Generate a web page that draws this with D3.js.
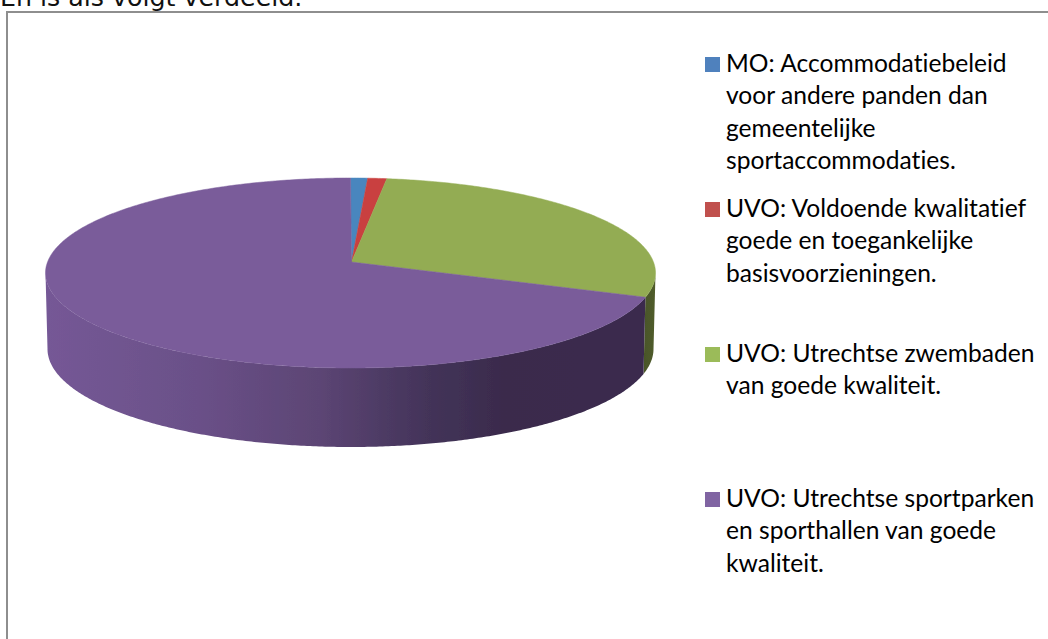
<!DOCTYPE html>
<html>
<head>
<meta charset="utf-8">
<script src="https://cdn.jsdelivr.net/npm/d3@7"></script>
<style>
    html, body { margin: 0; padding: 0; background: #fff; overflow: hidden; }
    svg { display: block; }
</style>
</head>
<body>
<svg id="chart"></svg>
<script>
var categories = [
    'MO: Accommodatiebeleid voor andere panden dan gemeentelijke sportaccommodaties.',
    'UVO: Voldoende kwalitatief goede en toegankelijke basisvoorzieningen.',
    'UVO: Utrechtse zwembaden van goede kwaliteit.',
    'UVO: Utrechtse sportparken en sporthallen van goede kwaliteit.'
];
var shares = [0.9, 1.0, 27.2, 70.9];
var legendLines = [
    ['MO: Accommodatiebeleid', 'voor andere panden dan', 'gemeentelijke', 'sportaccommodaties.'],
    ['UVO: Voldoende kwalitatief', 'goede en toegankelijke', 'basisvoorzieningen.'],
    ['UVO: Utrechtse zwembaden', 'van goede kwaliteit.'],
    ['UVO: Utrechtse sportparken', 'en sporthallen van goede', 'kwaliteit.']
];
var heading = 'En is als volgt verdeeld.';

var chartWidth = 1048, chartHeight = 639;

var faceColors = ['#4a86be', '#c9403f', '#93ac53', '#7a5c9a'];
var legendColors = ['#4f81bd', '#c0504d', '#9bbb59', '#8064a2'];

// top face is seen in perspective, so the apex sits above the ellipse centre
var topRim = { cx: 350.5, cy: 273, rx: 305, ry: 95, apexX: 351.5, apexY: 262 };
var bottomRim = { cx: 350.5, cy: 349, rx: 303, ry: 98 };

var legendY = [72, 217, 362, 507];
var lineStep = 32.3;

var svg = d3.select('#chart')
    .attr('width', chartWidth)
    .attr('height', chartHeight);

var defs = svg.append('defs');
defs.append('filter')
    .attr('id', 'soft')
    .append('feGaussianBlur')
    .attr('stdDeviation', 0.6);

function addWallGradient(id, stops) {
    var grad = defs.append('linearGradient')
        .attr('id', id)
        .attr('gradientUnits', 'userSpaceOnUse')
        .attr('x1', topRim.cx - topRim.rx).attr('x2', topRim.cx + topRim.rx)
        .attr('y1', 0).attr('y2', 0);
    stops.forEach(function(s) {
        grad.append('stop').attr('offset', s[0]).attr('stop-color', s[1]);
    });
}

addWallGradient('wall0', [[0, '#2f5d88'], [1, '#2f5d88']]);
addWallGradient('wall1', [[0, '#8e2e2c'], [1, '#8e2e2c']]);
addWallGradient('wall2', [[0.9, '#55622e'], [0.97, '#465226'], [1, '#505c2c']]);
addWallGradient('wall3', [
    [0, '#755896'], [0.25, '#6a5088'], [0.45, '#5c4574'],
    [0.62, '#44345a'], [0.75, '#3a2b4c'], [1, '#3a2b4e']
]);

// frame around the chart, open at the right and the bottom
svg.append('path')
    .attr('d', 'M7,' + chartHeight + 'V12H' + chartWidth)
    .attr('fill', 'none')
    .attr('stroke', '#8e8e8e')
    .attr('stroke-width', 2);

svg.append('text')
    .attr('x', 0)
    .attr('y', 6)
    .attr('font-family', '"DejaVu Sans"')
    .attr('font-size', 25.3)
    .attr('fill', '#111')
    .text(heading);

var pie = d3.pie().sort(null).startAngle(0).endAngle(2 * Math.PI);
var arcs = pie(shares);

function rimPoint(e, a) {
    return [e.cx + e.rx * Math.sin(a), e.cy - e.ry * Math.cos(a)];
}

function rimPoints(e, a0, a1) {
    var n = Math.max(2, Math.ceil((a1 - a0) / 0.01));
    return d3.range(n + 1).map(function(i) {
        return rimPoint(e, a0 + (a1 - a0) * i / n);
    });
}

var line = d3.line();
var pieGroup = svg.append('g').attr('filter', 'url(#soft)');

// side wall, only the front half of the rim is visible
arcs.forEach(function(d, i) {
    var a0 = Math.max(d.startAngle, Math.PI / 2);
    var a1 = Math.min(d.endAngle, 3 * Math.PI / 2);
    if (a1 <= a0) return;
    var pts = rimPoints(topRim, a0, a1).concat(rimPoints(bottomRim, a0, a1).reverse());
    pieGroup.append('path')
        .attr('d', line(pts) + 'Z')
        .attr('fill', 'url(#wall' + i + ')');
});

arcs.forEach(function(d, i) {
    var apex = [topRim.apexX, topRim.apexY];
    var pts = [apex].concat(rimPoints(topRim, d.startAngle, d.endAngle));
    pieGroup.append('path')
        .attr('d', line(pts) + 'Z')
        .attr('fill', faceColors[i])
        .attr('stroke', faceColors[i])
        .attr('stroke-width', 0.5);
});

var legend = svg.append('g')
    .selectAll('g')
    .data(categories)
    .join('g');

legend.append('rect')
    .attr('x', 705)
    .attr('y', function(d, i) { return legendY[i] - 15; })
    .attr('width', 15)
    .attr('height', 15)
    .attr('fill', function(d, i) { return legendColors[i]; });

legend.each(function(d, i) {
    d3.select(this).selectAll('text')
        .data(legendLines[i])
        .join('text')
        .attr('x', 726)
        .attr('y', function(t, j) { return legendY[i] + j * lineStep; })
        .attr('font-family', 'Lato')
        .attr('font-size', 24.6)
        .style('font-variant-ligatures', 'none')
        .attr('fill', '#000')
        .text(function(t) { return t; });
});
</script>
</body>
</html>
